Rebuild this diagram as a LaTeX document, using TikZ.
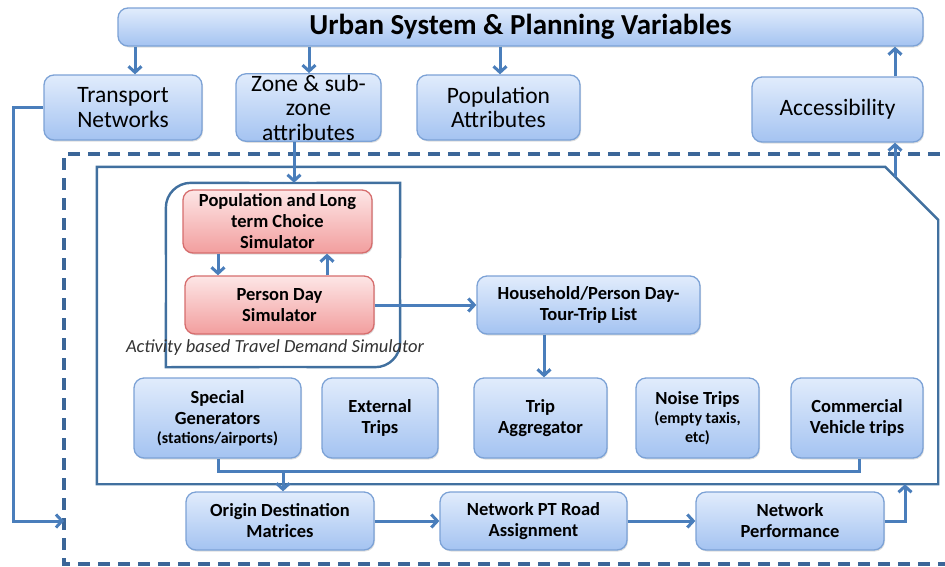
\documentclass[tikz,border=0pt]{standalone}
\usepackage{fontspec}
\setmainfont{Carlito}
\usetikzlibrary{arrows.meta,calc,shadows}
\definecolor{bluetop}{HTML}{E1ECFC}
\definecolor{bluebot}{HTML}{A4C3F1}
\definecolor{blueline}{HTML}{7CA2D6}
\definecolor{redtop}{HTML}{FDE6E6}
\definecolor{redbot}{HTML}{F29E9E}
\definecolor{redline}{HTML}{D66D6D}
\definecolor{conncol}{HTML}{4A7EBB}
\definecolor{dashcol}{HTML}{3B6698}
\definecolor{framecol}{HTML}{41709F}
\begin{document}
\begin{tikzpicture}[x=1pt,y=-1pt,
  box/.style={draw=blueline, line width=1.3pt, rounded corners=10pt,
    top color=bluetop, bottom color=bluebot, inner sep=1pt, align=center,
    drop shadow={shadow xshift=1pt, shadow yshift=-1.5pt, opacity=0.25}},
  redbox/.style={box, draw=redline, top color=redtop, bottom color=redbot},
  bigtxt/.style={font=\fontsize{23.5}{24.5}\selectfont},
  smalltxt/.style={font=\fontsize{18.5}{21}\selectfont\bfseries},
  subtxt/.style={font=\fontsize{16}{17}\selectfont\bfseries},
  conn/.style={draw=conncol, line width=3pt, -{Straight Barb[length=6pt,width=13pt]}},
  line/.style={draw=conncol, line width=3pt},
  frame/.style={draw=framecol, line width=2.4pt},
  dashframe/.style={draw=dashcol, line width=3.2pt, dash pattern=on 12pt off 8pt},
  ghost/.style={draw=none, inner sep=0pt}]
\useasboundingbox (0,0) rectangle (945,566);

% frames
\draw[dashframe] (980,154) -- (64,154) -- (64,564) -- (980,564);
\node[ghost, minimum width=841pt, minimum height=317pt] (inner) at (517.5,325.5) {};
\draw[frame] ($(inner.north east)+(-53,0)$) -- (inner.north west) -- (inner.south west)
   -- (inner.south east) -- ($(inner.north east)+(0,53)$) -- cycle;
\node[ghost, minimum width=234pt, minimum height=184pt] (act) at (283,275) {};
\draw[frame, rounded corners=25pt] (166,280) -- (act.north west) -- (283,183);
\draw[frame] (283,183) -- (act.north east) -- (400,280);
\draw[frame, rounded corners=25pt] (400,280) -- (act.south east) -- (283,367);
\draw[frame] (283,367) -- (act.south west) -- (166,280);

% title row
\node[box, minimum width=805pt, minimum height=38pt, font=\fontsize{29}{32}\selectfont\bfseries] (title) at (520.5,27) {Urban System \& Planning Variables};
\node[box, bigtxt, minimum width=158pt, minimum height=65pt] (tn) at (123,107.5) {Transport\\Networks};
\node[box, bigtxt, minimum width=145pt, minimum height=65pt] (zone) at (308.5,107.5) {Zone \& sub-\\zone\\attributes};
\node[box, bigtxt, minimum width=163pt, minimum height=65pt] (pop) at (498.5,107.5) {Population\\Attributes};
\node[box, bigtxt, minimum width=171pt, minimum height=65pt] (acc) at (837.5,109.5) {Accessibility};

% activity simulator
\node[redbox, smalltxt, minimum width=189pt, minimum height=63pt] (plc) at (277.5,221.5) {Population and Long\\term Choice\\Simulator};
\node[redbox, smalltxt, minimum width=189pt, minimum height=58pt] (pds) at (279.5,305) {Person Day\\Simulator};
\node[font=\fontsize{18.5}{20}\selectfont\itshape, text=black!80] (actlabel) at (275,348) {Activity based Travel Demand Simulator};
\node[box, smalltxt, minimum width=223pt, minimum height=58pt] (hh) at (588.5,305) {Household/Person Day-\\Tour-Trip List};

% five generators
\node[box, smalltxt, minimum width=167pt, minimum height=80pt] (sg) at (217.5,418) {Special\\Generators\\[-2pt]{\fontsize{16}{17}\selectfont(stations/airports)}};
\node[box, smalltxt, minimum width=116pt, minimum height=80pt] (ext) at (380,418) {External\\Trips};
\node[box, smalltxt, minimum width=133pt, minimum height=80pt] (ta) at (540.5,418) {Trip\\Aggregator};
\node[box, minimum width=123pt, minimum height=80pt, font=\fontsize{18.5}{19}\selectfont\bfseries] (nt) at (697.5,418) {Noise Trips\\{\fontsize{16}{17}\selectfont(empty taxis,}\\{\fontsize{16}{17}\selectfont etc)}};
\node[box, smalltxt, minimum width=132pt, minimum height=80pt] (cv) at (857,418) {Commercial\\Vehicle trips};

% bottom row
\node[box, smalltxt, minimum width=188pt, minimum height=58pt] (od) at (280,521) {Origin Destination\\Matrices};
\node[box, smalltxt, minimum width=187pt, minimum height=58pt] (npt) at (533.5,521) {Network PT Road\\Assignment};
\node[box, smalltxt, minimum width=188pt, minimum height=58pt] (np) at (790,521) {Network\\Performance};

% connectors
\draw[conn] (title.south -| 135,0) -- (tn.north -| 135,0);
\draw[conn] (title.south -| 309,0) -- (zone.north -| 309,0);
\draw[conn] (title.south -| 500,0) -- (pop.north -| 500,0);
\draw[conn] (acc.north -| 895,0) -- (title.south -| 895,0);
\coordinate (accfoot) at (895,177);
\draw[conn] (accfoot) -- (acc.south -| 895,0);
\draw[conn] (zone.south -| 294,0) -- (act.north -| 294,0);
\draw[conn] (plc.south -| 218,0) -- (pds.north -| 218,0);
\draw[conn] (pds.north -| 327,0) -- (plc.south -| 327,0);
\draw[conn] (pds.east) -- (hh.west);
\draw[conn] (hh.south -| 544,0) -- (ta.north -| 544,0);
\draw[line] (sg.south -| 218,0) -- (218,471) -- (859,471) -- (cv.south -| 859,0);
\draw[conn] (283,471) -- (od.north -| 283,0);
\draw[conn] (od.east) -- (npt.west);
\draw[conn] (npt.east) -- (np.west);
\draw[conn] (np.east) -- (905,521) -- (inner.south -| 905,0);
\coordinate (dashin) at (64,521);
\draw[conn] (tn.west) -- (13,107.5) -- (13,521) -- (dashin);
\end{tikzpicture}
\end{document}
